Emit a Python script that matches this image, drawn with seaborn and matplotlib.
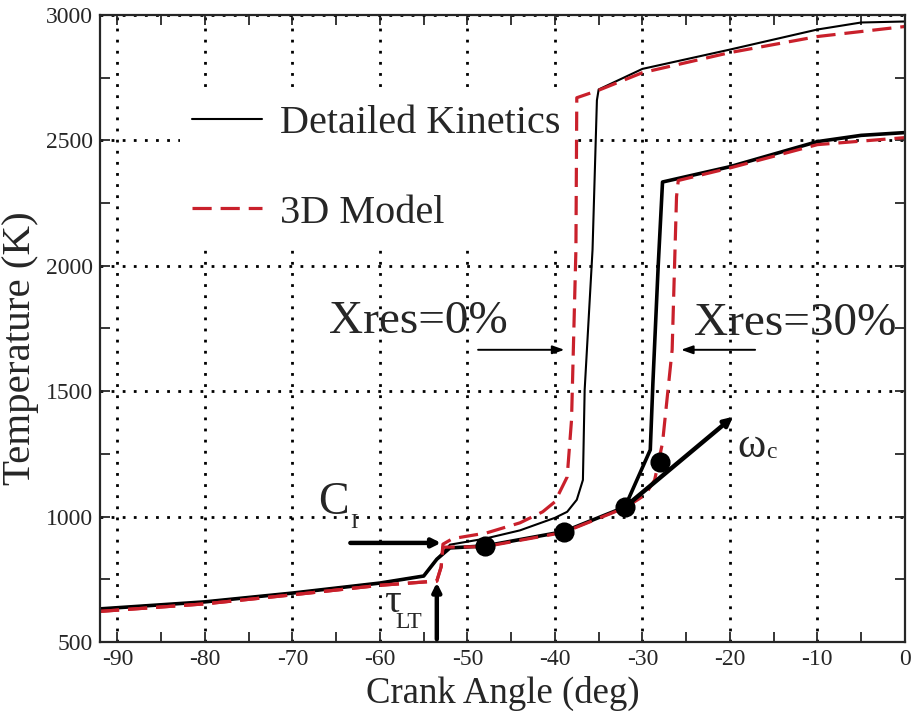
import matplotlib
matplotlib.use("Agg")
import numpy as np
import pandas as pd
import matplotlib.pyplot as plt
import matplotlib.ticker as mticker
import seaborn as sns

# Xres = 0% : detailed kinetics (thin black)
dk0_angle = [-92, -80, -70, -60, -55, -53.5, -52, -48, -44, -40, -38.6, -37.5, -36.8,
             -36.6, -35.7, -35.2, -35.0, -30, -20, -10, -5, 0]
dk0_temp = [632, 660, 695, 735, 763, 830, 888, 912, 945, 995, 1019, 1067, 1146,
            1505, 2064, 2660, 2703, 2785, 2862, 2942, 2970, 2974]

# Xres = 0% : 3D model (red dashed)
m3d0_angle = [-92, -80, -70, -60, -53.5, -53.0, -52.8, -51.7, -47.8, -44, -41.4, -40,
              -38.6, -38.1, -37.6, -37.5, -35, -30, -20, -10, 0]
m3d0_temp = [622, 652, 688, 726, 743, 800, 890, 912, 935, 975, 1019, 1059,
             1158, 1386, 2064, 2670, 2700, 2770, 2850, 2914, 2954]

# Xres = 30% : detailed kinetics (thick black)
dk30_angle = [-92, -80, -70, -60, -55, -53.5, -52, -48, -39, -32, -29.1, -28.8,
              -28.2, -27.7, -20, -10, -5, 0]
dk30_temp = [632, 660, 695, 735, 763, 830, 875, 883, 940, 1038, 1266, 1533,
             1996, 2334, 2395, 2495, 2520, 2531]

# Xres = 30% : 3D model (red dashed)
m3d30_angle = [-92, -80, -70, -60, -53.5, -53.0, -52.8, -48, -39, -32, -29.7, -28.6,
               -27.7, -26.6, -26.1, -25.9, -20, -10, 0]
m3d30_temp = [622, 652, 688, 726, 743, 800, 878, 880, 937, 1035, 1086, 1146,
              1294, 1665, 2275, 2340, 2390, 2483, 2511]

# ignition-delay markers
marker_angle = [-48, -39, -32, -28]
marker_temp = [883, 939, 1038, 1218]

RED = "#c9202b"

sns.set_style("ticks")
plt.rcParams["font.family"] = ["Liberation Serif", "DejaVu Serif"]
plt.rcParams["axes.unicode_minus"] = False

fig, ax = plt.subplots(figsize=(9.14, 7.13), dpi=100)
fig.subplots_adjust(left=0.1094, right=0.990, bottom=0.0996, top=0.979)

sns.lineplot(x=dk30_angle, y=dk30_temp, ax=ax, color="black", lw=2.6, sort=False, legend=False)
sns.lineplot(x=dk0_angle, y=dk0_temp, ax=ax, color="black", lw=1.5, sort=False, legend=False)
sns.lineplot(x=m3d0_angle, y=m3d0_temp, ax=ax, color=RED, lw=2.3, sort=False, legend=False)
sns.lineplot(x=m3d30_angle, y=m3d30_temp, ax=ax, color=RED, lw=2.3, sort=False, legend=False)
for ln in ax.lines[2:4]:
    ln.set_dashes((6, 2.8))

sns.scatterplot(x=marker_angle, y=marker_temp, ax=ax, color="black", s=180,
                edgecolor="black", zorder=5, legend=False)

ax.set_xlim(-92, 0)
ax.set_ylim(500, 3000)
ax.xaxis.set_major_locator(mticker.MultipleLocator(10))
ax.xaxis.set_minor_locator(mticker.MultipleLocator(5))
ax.yaxis.set_major_locator(mticker.MultipleLocator(500))
ax.yaxis.set_minor_locator(mticker.MultipleLocator(250))
ax.tick_params(which="both", direction="in", top=True, right=True, length=7, width=1.3,
               labelsize=17, pad=5)
ax.grid(True, which="major", color="black", linestyle=(0, (1, 3)), lw=2)
for sp in ax.spines.values():
    sp.set_linewidth(1.6)

ax.set_xlabel("Crank Angle (deg)", fontsize=26.5)
ax.set_ylabel("Temperature (K)", fontsize=29.5)
ax.xaxis.set_label_coords(0.5, -0.054)
ax.yaxis.set_label_coords(-0.099, 0.469)
ax.yaxis.label.set_va("center")

# legend (drawn under the curves, above the grid)
handles = [ax.lines[1], ax.lines[2]]
leg = ax.legend(handles, ["Detailed Kinetics", "3D Model"], loc="upper left",
                bbox_to_anchor=(0.099, 0.876), borderaxespad=0, borderpad=0.3,
                fontsize=29, handlelength=1.75, handletextpad=0.45, labelspacing=1.3,
                frameon=True, fancybox=False, framealpha=1, facecolor="white",
                edgecolor="none")
leg.set_zorder(1.8)

# annotations
ax.text(-65.8, 1733, "Xres=0%", fontsize=34)
ax.text(-24.1, 1725, "Xres=30%", fontsize=34)
ax.annotate("", xy=(-38.6, 1665), xytext=(-49.1, 1665),
            arrowprops=dict(arrowstyle="-|>,head_length=0.7,head_width=0.25", lw=1.4, color="black"))
ax.annotate("", xy=(-25.9, 1665), xytext=(-16.8, 1665),
            arrowprops=dict(arrowstyle="-|>,head_length=0.7,head_width=0.25", lw=1.4, color="black"))

ax.text(-67.1, 1010, "C", fontsize=33)
ax.text(-63.4, 955, "I", fontsize=16)
ax.annotate("", xy=(-52.7, 895), xytext=(-63.7, 895),
            arrowprops=dict(arrowstyle="-|>,head_length=0.5,head_width=0.25", lw=3.2, color="black"))

ax.text(-59.5, 620, "\u03c4", fontsize=30)
ax.text(-58.2, 556, "LT", fontsize=17)
ax.annotate("", xy=(-53.5, 748), xytext=(-53.5, 500),
            arrowprops=dict(arrowstyle="-|>,head_length=0.5,head_width=0.25", lw=3.2, color="black"))

ax.text(-19.2, 1238, "\u03c9", fontsize=31)
ax.text(-15.9, 1234, "c", fontsize=17)
ax.annotate("", xy=(-19.4, 1405), xytext=(-32, 1038),
            arrowprops=dict(arrowstyle="-|>,head_length=0.5,head_width=0.25", lw=3.2, color="black"))

fig.savefig("out.png", dpi=100)
